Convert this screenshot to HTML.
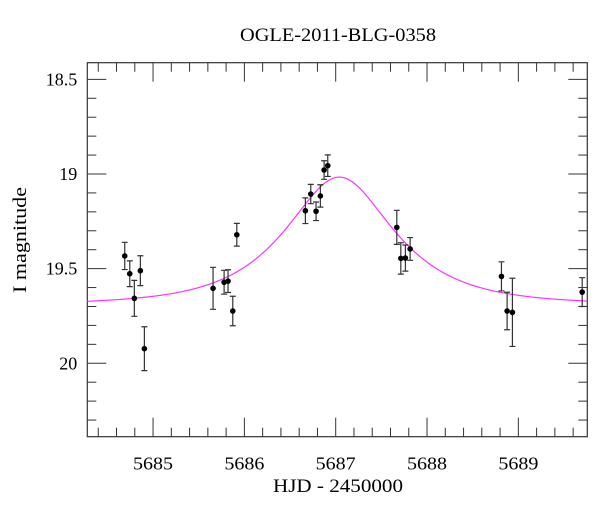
<!DOCTYPE html>
<html><head><meta charset="utf-8"><style>
html,body{margin:0;padding:0;background:#fff}
svg{display:block}
text{font-family:"Liberation Serif","DejaVu Serif",serif;fill:#000}
</style></head><body>
<svg id="chart" width="600" height="512">
<text x="338" y="41" font-size="19" text-anchor="middle" textLength="196" lengthAdjust="spacingAndGlyphs">OGLE-2011-BLG-0358</text>
<text x="338" y="492" font-size="19" text-anchor="middle" textLength="130" lengthAdjust="spacingAndGlyphs">HJD - 2450000</text>
<text transform="translate(26,240) rotate(-90)" font-size="19" text-anchor="middle" textLength="106" lengthAdjust="spacingAndGlyphs">I magnitude</text>
<g id="plot"></g>
</svg>
<script>
const xTicks = [5685, 5686, 5687, 5688, 5689];
const yTicks = [18.5, 19, 19.5, 20];
const yTickLabels = ["18.5", "19", "19.5", "20"];
const hjd = [5684.690,5684.745,5684.795,5684.861,5684.905,5685.657,5685.778,5685.821,5685.873,5685.917,5686.668,5686.727,5686.785,5686.832,5686.873,5686.913,5687.669,5687.713,5687.763,5687.815,5688.815,5688.877,5688.935,5689.699];
const mag = [19.433,19.527,19.657,19.511,19.923,19.604,19.572,19.566,19.724,19.321,19.194,19.106,19.197,19.116,18.979,18.956,19.282,19.446,19.444,19.396,19.541,19.724,19.731,19.624];
const magErr = [0.072,0.068,0.095,0.079,0.116,0.111,0.063,0.060,0.078,0.060,0.068,0.051,0.049,0.059,0.049,0.057,0.090,0.083,0.069,0.060,0.077,0.099,0.180,0.076];
const modelT0 = 5687.04, modelTE = 0.93, modelU0 = 0.61, modelBase = 19.69;

const L=87.3,R=587.3,T=62.7,B=436.7;
const xMin=5684.28,xMax=5689.755,yMin=18.412,yMax=20.388;
const X=v=>L+(v-xMin)/(xMax-xMin)*(R-L);
const Y=v=>T+(v-yMin)/(yMax-yMin)*(B-T);
const NS="http://www.w3.org/2000/svg";
const g=document.getElementById('plot');
function mk(tag,attrs){const e=document.createElementNS(NS,tag);for(const k in attrs)e.setAttribute(k,attrs[k]);g.appendChild(e);return e;}

const frame=mk('rect',{x:L,y:T,width:R-L,height:B-T,fill:'none',stroke:'#333','stroke-width':1.2});



for(let i=Math.ceil(xMin*5);i<=Math.floor(xMax*5);i++){
  const v=i/5, maj=(i%5===0), len=maj?19:9, x=X(v);
  const t1=mk('line',{x1:x,y1:B,x2:x,y2:B-len,stroke:'#333','stroke-width':1});
  
  
  const t2=mk('line',{x1:x,y1:T,x2:x,y2:T+len,stroke:'#333','stroke-width':1});
  
  
}
xTicks.forEach(v=>{
  const t=mk('text',{x:X(v),y:B+33,'font-size':18,'text-anchor':'middle',textLength:40,lengthAdjust:'spacingAndGlyphs'});
  t.textContent=String(v);
  
  
});
for(let i=Math.ceil(yMin*10);i<=Math.floor(yMax*10);i++){
  const v=i/10, maj=(i%5===0), len=maj?19:9, y=Y(v);
  const t1=mk('line',{x1:L,y1:y,x2:L+len,y2:y,stroke:'#333','stroke-width':1});
  
  
  const t2=mk('line',{x1:R,y1:y,x2:R-len,y2:y,stroke:'#333','stroke-width':1});
  
  
}
yTicks.forEach((v,i)=>{
  const t=mk('text',{x:L-10,y:Y(v)+6,'font-size':18,'text-anchor':'end'});
  t.textContent=yTickLabels[i];
  
  
});

let d='';
for(let i=0;i<=400;i++){
  const t=xMin+(xMax-xMin)*i/400;
  const u=Math.sqrt(modelU0*modelU0+Math.pow((t-modelT0)/modelTE,2));
  const A=(u*u+2)/(u*Math.sqrt(u*u+4));
  const m=modelBase-2.5*Math.log10(A);
  d+=(i?'L':'M')+X(t).toFixed(2)+','+Y(m).toFixed(2);
}
const curve=mk('path',{d:d,fill:'none',stroke:'#ff33ff','stroke-width':1.2});



hjd.forEach((t,i)=>{
  const x=X(t),y1=Y(mag[i]-magErr[i]),y2=Y(mag[i]+magErr[i]);
  const eb=mk('path',{d:`M${x},${y1}L${x},${y2}M${x-3},${y1}L${x+3},${y1}M${x-3},${y2}L${x+3},${y2}`,stroke:'#333','stroke-width':1.2,fill:'none'});
  
  
  const c=mk('circle',{cx:x,cy:Y(mag[i]),r:2.8,fill:'#000'});
  
  
});
</script>
</body></html>
